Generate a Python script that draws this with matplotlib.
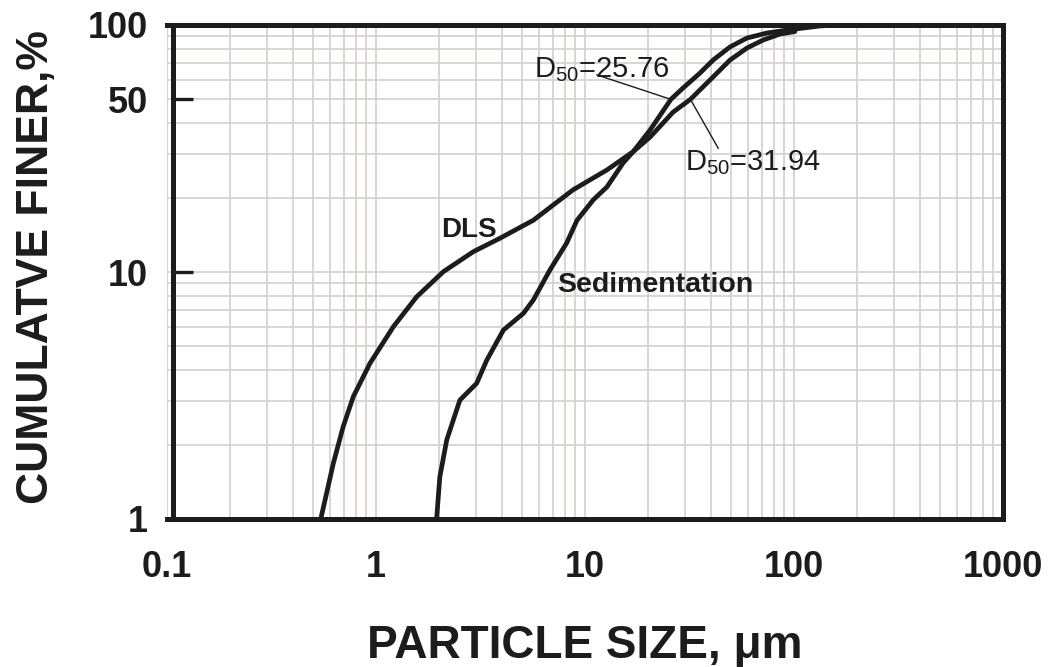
import matplotlib
matplotlib.use("Agg")
import matplotlib.pyplot as plt
from matplotlib.ticker import FixedLocator, LogLocator, NullFormatter, FixedFormatter

plt.rcParams['font.family'] = ['Liberation Sans', 'DejaVu Sans']
plt.rcParams['font.weight'] = 'bold'
plt.rcParams['mathtext.fontset'] = 'custom'
plt.rcParams['mathtext.rm'] = 'Liberation Sans:weight=normal'
plt.rcParams['mathtext.it'] = 'Liberation Sans:italic:weight=normal'
plt.rcParams['mathtext.bf'] = 'Liberation Sans:bold'

# cumulative finer (%) vs particle size (um)
dls_size = [0.544, 0.625, 0.697, 0.779, 0.936, 1.21, 1.566, 2.10, 2.92, 3.92,
            5.66, 8.76, 12.74, 17.0, 20.5, 26.4, 31.94, 41.0, 49.4, 59.6,
            71.1, 85.7, 101]
dls_finer = [1.0, 1.68, 2.37, 3.13, 4.27, 6.0, 7.94, 10.03, 12.08, 13.7,
             16.2, 21.5, 25.9, 30.7, 35.2, 44.4, 50.0, 61.6, 72.1, 80.7,
             86.9, 91.9, 94.1]

sed_size = [1.95, 2.02, 2.18, 2.52, 3.03, 3.39, 4.07, 5.07, 5.66, 6.80,
            8.17, 9.16, 10.96, 12.74, 15.2, 17.0, 20.5, 25.76, 29.4, 35.5,
            41.0, 49.4, 59.6, 74.3, 92.6, 133, 165]
sed_finer = [1.0, 1.48, 2.09, 3.03, 3.54, 4.40, 5.82, 6.80, 7.70, 10.2,
             13.1, 16.2, 19.6, 22.1, 27.6, 30.7, 37.6, 50.0, 55.5, 63.9,
             72.1, 81.5, 88.6, 92.8, 95.4, 99.1, 100]

d50_sed = 25.76
d50_dls = 31.94

x_ticks = [0.1, 1, 10, 100, 1000]
x_labels = ['0.1', '1', '10', '100', '1000']
y_ticks = [1, 10, 50, 100]
y_labels = ['1', '10', '50', '100']

ink = '#1c1c1c'
grid_c = '#d4cecc'

fig = plt.figure(figsize=(10.53, 6.67), dpi=100)
ax = fig.add_axes([167 / 1053, 1 - 519 / 667, 836 / 1053, 494 / 667])
ax.set_xscale('log')
ax.set_yscale('log')
ax.set_xlim(0.1, 1000)
ax.set_ylim(1, 100)

ax.xaxis.set_major_locator(FixedLocator(x_ticks))
ax.xaxis.set_major_formatter(FixedFormatter(x_labels))
ax.xaxis.set_minor_locator(LogLocator(base=10, subs=range(2, 10)))
ax.xaxis.set_minor_formatter(NullFormatter())
ax.yaxis.set_major_locator(FixedLocator(y_ticks))
ax.yaxis.set_major_formatter(FixedFormatter(y_labels))
ax.yaxis.set_minor_locator(LogLocator(base=10, subs=range(2, 10)))
ax.yaxis.set_minor_formatter(NullFormatter())

ax.grid(True, which='both', color=grid_c, lw=1.2, zorder=0)
ax.set_axisbelow(True)

ax.tick_params(axis='both', which='minor', length=0)
ax.tick_params(axis='x', which='major', length=0, pad=22, labelsize=26,
               labelcolor=ink)
ax.tick_params(axis='y', which='major', direction='in', length=14.5,
               width=2.4, color=ink, pad=18, labelsize=26, labelcolor=ink)
# only the 50 % tick is marked
for t, v in zip(ax.yaxis.get_major_ticks(), y_ticks):
    if v != 50:
        t.tick1line.set_visible(False)
    t.tick2line.set_visible(False)

for side in ['top', 'bottom', 'left', 'right']:
    ax.spines[side].set_linewidth(3.6)
    ax.spines[side].set_color(ink)
    ax.spines[side].set_zorder(5)
ax.spines['left'].set_position(('axes', 0.007))

ax.plot(dls_size, dls_finer, color=ink, lw=3.4, solid_capstyle='round',
        solid_joinstyle='round', zorder=3)
ax.plot(sed_size, sed_finer, color=ink, lw=3.4, solid_capstyle='round',
        solid_joinstyle='round', zorder=3)

# D50 leader lines
ax.plot([11.4, d50_sed], [62.8, 50], color=ink, lw=1.0, zorder=4)
ax.plot([d50_dls, 43.4], [50, 31.7], color=ink, lw=1.0, zorder=4)

ax.text(5.7, 61.6, r'D$_{50}$=' + f'{d50_sed:.2f}', fontsize=21, color=ink,
        fontweight='normal', ha='left', va='baseline', zorder=6)
ax.text(30.1, 25.9, r'D$_{50}$=' + f'{d50_dls:.2f}', fontsize=21, color=ink,
        fontweight='normal', ha='left', va='baseline', zorder=6)
ax.text(2.04, 13.86, 'DLS', fontsize=20, color=ink,
        ha='left', va='baseline', zorder=6)
ax.text(7.35, 8.30, 'Sedimentation', fontsize=20.5,
        color=ink, ha='left', va='baseline', zorder=6)

fig.text(585 / 1053, 1 - 658 / 667, 'PARTICLE SIZE, μm', fontsize=33,
         color=ink, ha='center', va='baseline')
fig.text(48 / 1053, 1 - 267 / 667, 'CUMULATVE FINER,%', fontsize=32,
         color=ink, rotation=90, rotation_mode='anchor',
         ha='center', va='baseline')

fig.savefig('out.png', dpi=100, facecolor='white')
